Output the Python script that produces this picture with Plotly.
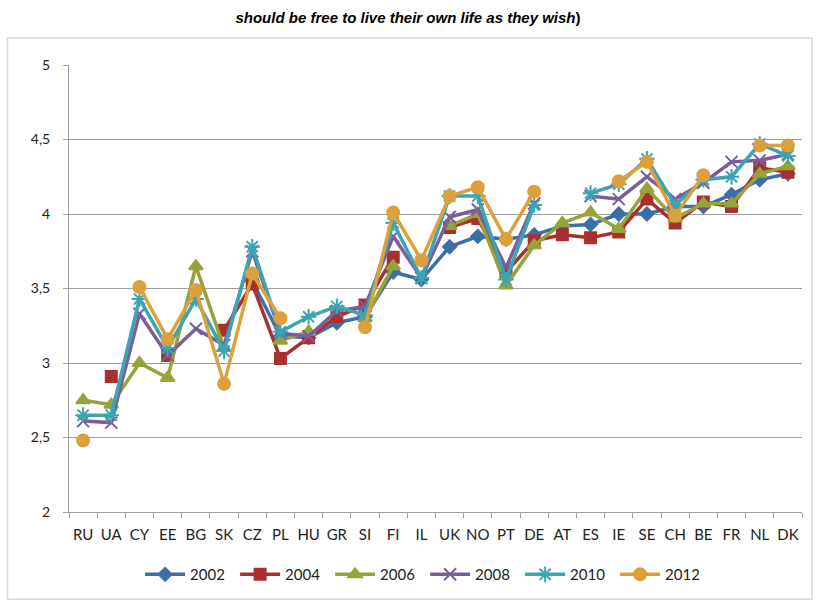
import plotly.graph_objects as go

categories = ["RU","UA","CY","EE","BG","SK","CZ","PL","HU","GR","SI","FI","IL",
              "UK","NO","PT","DE","AT","ES","IE","SE","CH","BE","FR","NL","DK"]

y2002 = [None,None,None,None,None,None,3.55,3.18,3.17,3.27,3.31,3.61,3.56,
         3.78,3.85,3.83,3.86,3.92,3.93,4.00,4.00,4.05,4.05,4.13,4.23,4.27]
y2004 = [None,2.91,None,3.05,None,3.22,3.53,3.03,3.17,3.31,3.39,3.71,None,
         3.91,3.97,3.61,3.82,3.86,3.84,3.88,4.10,3.94,4.08,4.05,4.31,4.28]
y2006 = [2.75,2.72,3.00,2.90,3.65,3.10,None,3.15,3.21,None,3.30,3.65,None,
         3.92,4.00,3.52,3.79,3.94,4.01,3.90,4.17,3.97,4.07,4.07,4.27,4.32]
y2008 = [2.61,2.60,3.33,3.05,3.23,3.12,3.75,3.20,3.18,3.35,3.38,3.85,3.57,
         3.98,4.03,3.64,4.07,None,4.12,4.10,4.25,4.10,4.21,4.35,4.36,4.40]
y2010 = [2.65,2.65,3.43,3.10,3.43,3.08,3.78,3.21,3.31,3.38,3.32,3.94,3.57,
         4.12,4.12,3.56,4.06,None,4.14,4.20,4.37,4.06,4.23,4.25,4.47,4.39]
y2012 = [2.48,None,3.51,3.16,3.49,2.86,3.60,3.30,None,None,3.24,4.01,3.69,
         4.12,4.18,3.83,4.15,None,None,4.22,4.35,3.99,4.26,None,4.46,4.46]

series_names = ["2002","2004","2006","2008","2010","2012"]
ytick_vals = [2, 2.5, 3, 3.5, 4, 4.5, 5]
ytick_text = ["2", "2,5", "3", "3,5", "4", "4,5", "5"]

styles = [
    (y2002, "#3C6EA8", "diamond", 10),
    (y2004, "#A8302E", "square", 11),
    (y2006, "#98A23A", "triangle-up", 12),
    (y2008, "#7A5E9C", "x-thin-open", 12),
    (y2010, "#3BA5B3", "asterisk-open", 13),
    (y2012, "#DCA03C", "circle", 12),
]

fig = go.Figure()
for name, (ys, col, sym, sz) in zip(series_names, styles):
    fig.add_trace(go.Scatter(
        x=categories, y=ys, name=name, mode="lines+markers",
        line=dict(color=col, width=3.5),
        marker=dict(symbol=sym, size=sz, color=col,
                    line=dict(color=col, width=2)),
        connectgaps=False,
    ))

font_main = "Lato, Liberation Sans, sans-serif"

fig.update_layout(
    width=816, height=605, autosize=False,
    margin=dict(l=69, r=14, t=65, b=93),
    paper_bgcolor="white", plot_bgcolor="white",
    title=dict(text="<b><i>should be free to live their own life as they wish</i>)</b>",
               x=0.5, xanchor="center", y=0.970, yanchor="middle",
               font=dict(family="Liberation Sans, Arial, sans-serif", size=15, color="black")),
    showlegend=True,
    legend=dict(orientation="h", x=0.097, xanchor="left", y=-0.14, yanchor="middle",
                font=dict(family=font_main, size=15, color="#222"),
                entrywidth=40, itemwidth=40, traceorder="normal"),
    xaxis=dict(type="category", showgrid=False, showline=True, linecolor="#A0A0A0",
               linewidth=1, ticks="outside", tickson="boundaries", ticklen=5,
               tickcolor="#A0A0A0", tickangle=0, ticklabelstandoff=9,
               tickfont=dict(family=font_main, size=15, color="#222"),
               range=[-0.5, len(categories) - 0.5]),
    yaxis=dict(range=[2, 5], tickvals=ytick_vals, ticktext=ytick_text,
               showgrid=True, gridcolor="#A0A0A0", gridwidth=1,
               showline=True, linecolor="#A0A0A0", linewidth=1,
               ticks="outside", ticklen=5, tickcolor="#A0A0A0", ticklabelstandoff=10,
               tickfont=dict(family=font_main, size=14, color="#222"),
               zeroline=False),
)

fig.add_shape(type="rect", xref="paper", yref="paper",
              x0=-0.0838, x1=1.0136, y0=-0.195, y1=1.0603,
              line=dict(color="#D9D9D9", width=1.5), fillcolor="rgba(0,0,0,0)", layer="below")

fig.write_html("out.html")
